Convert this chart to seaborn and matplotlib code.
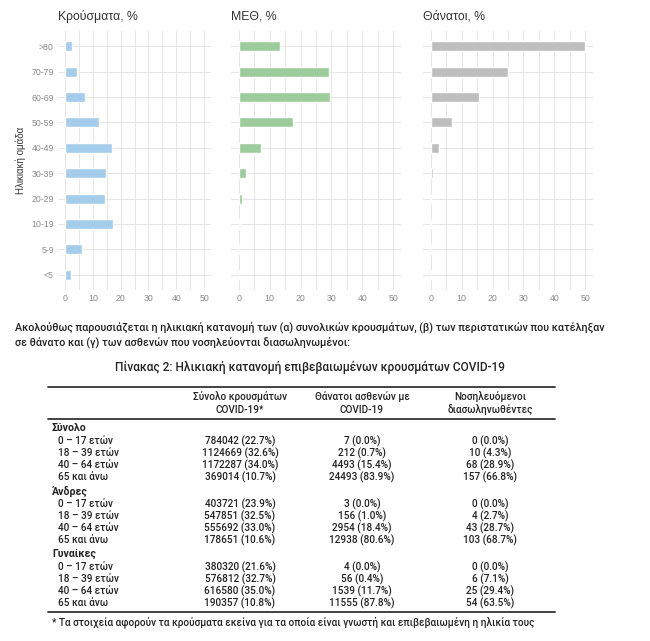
import matplotlib
matplotlib.use("Agg")
import matplotlib.pyplot as plt
from matplotlib.lines import Line2D
from matplotlib.ticker import MultipleLocator
import seaborn as sns
import pandas as pd

# age groups, top to bottom as drawn
age_groups = [">80", "70-79", "60-69", "50-59", "40-49", "30-39", "20-29", "10-19", "5-9", "<5"]
cases_pct = [2.6, 4.4, 7.3, 12.3, 16.9, 14.8, 14.5, 17.2, 6.0, 2.3]
icu_pct = [13.5, 29.2, 29.5, 17.4, 7.1, 2.4, 0.9, 0.3, 0.1, 0.2]
deaths_pct = [50.0, 24.9, 15.7, 7.0, 2.6, 0.6, 0.1, 0.1, 0.05, 0.1]

panel_titles = ["Κρούσματα, %", "ΜΕΘ, %", "Θάνατοι, %"]
panel_colors = ["#a3cdea", "#9ccc9c", "#bebebe"]

intro_text = ["Ακολούθως παρουσιάζεται η ηλικιακή κατανομή των (α) συνολικών κρουσμάτων, (β) των περιστατικών που κατέληξαν",
              "σε θάνατο και (γ) των ασθενών που νοσηλεύονται διασωληνωμένοι:"]
table_title = "Πίνακας 2: Ηλικιακή κατανομή επιβεβαιωμένων κρουσμάτων COVID-19"
col_headers = [["Σύνολο κρουσμάτων", "COVID-19*"],
               ["Θάνατοι ασθενών με", "COVID-19"],
               ["Νοσηλευόμενοι", "διασωληνωθέντες"]]
groups = ["Σύνολο", "Άνδρες", "Γυναίκες"]
row_labels = ["0 – 17 ετών", "18 – 39 ετών", "40 – 64 ετών", "65 και άνω"]
tbl_cases = [[784042, 1124669, 1172287, 369014], [403721, 547851, 555692, 178651], [380320, 576812, 616580, 190357]]
tbl_cases_pct = [[22.7, 32.6, 34.0, 10.7], [23.9, 32.5, 33.0, 10.6], [21.6, 32.7, 35.0, 10.8]]
tbl_deaths = [[7, 212, 4493, 24493], [3, 156, 2954, 12938], [4, 56, 1539, 11555]]
tbl_deaths_pct = [[0.0, 0.7, 15.4, 83.9], [0.0, 1.0, 18.4, 80.6], [0.0, 0.4, 11.7, 87.8]]
tbl_icu = [[0, 10, 68, 157], [0, 4, 43, 103], [0, 6, 25, 54]]
tbl_icu_pct = [[0.0, 4.3, 28.9, 66.8], [0.0, 2.7, 28.7, 68.7], [0.0, 7.1, 29.4, 63.5]]
footnote = "* Τα στοιχεία αφορούν τα κρούσματα εκείνα για τα οποία είναι γνωστή και επιβεβαιωμένη η ηλικία τους"

sns.set_theme(style="whitegrid")
plt.rcParams["font.family"] = ["Liberation Sans", "DejaVu Sans"]
doc_font = ["Roboto", "DejaVu Sans"]
doc_weight = "medium"

W, H = 650, 641
fig = plt.figure(figsize=(W / 100, H / 100), dpi=100)
fig.patch.set_facecolor("white")
renderer = fig.canvas.get_renderer()


def fx(px):
    return px / W


def fy(py):
    return 1 - py / H


def fit_text(x, y, s, width_px, size, **kw):
    # shrink the font until the text is no wider than width_px
    t = fig.text(fx(x), fy(y), s, family=doc_font, weight=doc_weight, fontsize=size,
                 color="#222222", va="center", **kw)
    w = t.get_window_extent(renderer).width
    if w > width_px:
        t.set_fontsize(size * width_px / w)
    return t


data = pd.DataFrame({"age": age_groups, "cases": cases_pct, "icu": icu_pct, "deaths": deaths_pct})
panels = [("cases", 58, 153), ("icu", 231, 170), ("deaths", 423, 170)]

for i, (col, left, width) in enumerate(panels):
    ax = fig.add_axes([fx(left), fy(290), fx(width), 259 / H])
    sns.barplot(data=data, x=col, y="age", orient="h", color=panel_colors[i],
                width=0.4, saturation=1, ax=ax)
    ax.set_xlim(-2.5, 52.5)
    ax.set_ylim(9.6, -0.6)
    ax.xaxis.set_major_locator(MultipleLocator(10))
    ax.xaxis.set_minor_locator(MultipleLocator(5))
    ax.grid(True, which="both", axis="x", color="#e6e6e6", linewidth=0.7)
    ax.grid(True, axis="y", color="#e6e6e6", linewidth=0.7)
    ax.set_axisbelow(True)
    for s in ax.spines.values():
        s.set_visible(False)
    ax.tick_params(axis="both", which="both", length=0, labelsize=6.3, labelcolor="#8a8a8a", pad=3)
    ax.set_xlabel("")
    ax.set_title(panel_titles[i], loc="left", fontsize=8.8, color="#333333", pad=8)
    if i == 0:
        ax.set_ylabel("Ηλικιακή ομάδα", fontsize=7.0, color="#333333", labelpad=4)
    else:
        ax.set_ylabel("")
        ax.set_yticklabels([])

# paragraph and table title
first = fit_text(15, 327, intro_text[0], 590, 8.6)
fit_text(15, 343, intro_text[1], 590, first.get_fontsize())
fit_text(310, 367, table_title, 390, 10.2, ha="center")

# table
col_x = [240, 362, 490]
rule_kw = dict(color="#333333", linewidth=1.3, transform=fig.transFigure)
fig.add_artist(Line2D([fx(48), fx(555)], [fy(387), fy(387)], **rule_kw))
fig.add_artist(Line2D([fx(48), fx(555)], [fy(419), fy(419)], **rule_kw))
fig.add_artist(Line2D([fx(48), fx(555)], [fy(612), fy(612)], **rule_kw))

for c, hdr in enumerate(col_headers):
    for k, line in enumerate(hdr):
        fig.text(fx(col_x[c]), fy(397 + 13 * k), line, family=doc_font, weight=doc_weight,
                 fontsize=7.2, color="#222222", ha="center", va="center")

group_y = [428, 491, 554]
for g, name in enumerate(groups):
    fig.text(fx(52), fy(group_y[g]), name, family=doc_font, fontsize=7.6, weight="bold",
             color="#222222", va="center")
    for r, lab in enumerate(row_labels):
        y = fy(group_y[g] + 13 + 12 * r)
        fig.text(fx(58), y, lab, family=doc_font, weight=doc_weight, fontsize=7.2,
                 color="#222222", va="center")
        vals = [f"{tbl_cases[g][r]} ({tbl_cases_pct[g][r]:.1f}%)",
                f"{tbl_deaths[g][r]} ({tbl_deaths_pct[g][r]:.1f}%)",
                f"{tbl_icu[g][r]} ({tbl_icu_pct[g][r]:.1f}%)"]
        for c, v in enumerate(vals):
            fig.text(fx(col_x[c]), y, v, family=doc_font, weight=doc_weight, fontsize=7.2,
                     color="#222222", ha="center", va="center")

fit_text(52, 622, footnote, 476, 7.6)

fig.savefig("out.png", dpi=100, facecolor="white")
